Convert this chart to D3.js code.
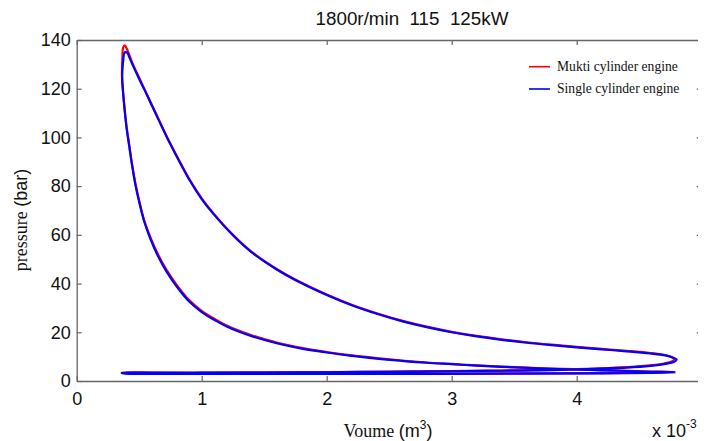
<!DOCTYPE html>
<html><head><meta charset="utf-8">
<script src="https://cdn.jsdelivr.net/npm/d3@7"></script>
<style>
body{margin:0;background:#fff;}
svg{display:block;}
text{white-space:pre;}
</style>
</head><body>
<svg id="chart" width="707" height="441"></svg>
<script>
// ---- data (volume in 1e-3 m^3, pressure in bar) ----
const multiVolume = [4.78,4.60,4.40,4.20,4.00,3.80,3.60,3.40,3.20,3.00,2.80,2.60,2.40,2.20,2.00,1.80,1.60,1.40,1.30,1.20,1.10,1.00,0.90,0.80,0.72,0.65,0.59,0.54,0.50,0.47,0.44,0.42,0.40,0.385,0.37,0.362,
  0.365,0.372,0.385,0.40,0.42,0.45,0.50,0.55,0.60,0.66,0.72,0.80,0.90,1.00,1.10,1.25,1.40,1.60,1.80,2.00,2.20,2.40,2.60,2.80,3.00,3.20,3.40,3.60,3.80,4.00,4.20,4.40,4.59,4.70,4.76,4.78,
  4.76,4.70,4.59,4.40,4.19,4.00,3.80,3.40,3.00,2.50,2.00,1.50,1.00,0.60,0.40,0.36,
  0.40,0.80,1.50,2.50,3.50,4.20,4.60,4.78];
const multiPressure = [3.7,3.9,4.2,4.5,4.8,5.1,5.5,5.9,6.4,7.0,7.6,8.4,9.4,10.5,11.9,13.6,15.8,18.8,20.6,22.8,25.6,28.8,33.2,39.5,45.5,52,59,66,74,81,90,97,104,111,119,126,
  132,137,137.8,136.5,134,130,124.5,119,113.5,107,100.5,92.5,83,75,68.5,60,53,46,40.3,35.5,31.3,27.8,24.8,22.3,20.2,18.5,17.1,15.9,14.9,14.0,13.2,12.4,11.5,10.7,9.8,8.9,
  8.0,7.2,6.4,5.7,5.2,4.9,4.6,4.3,4.1,3.9,3.7,3.6,3.5,3.5,3.5,3.4,
  3.1,3.0,3.0,3.0,3.1,3.2,3.4,3.7];

const singleVolume = [4.79,4.60,4.40,4.20,4.00,3.80,3.60,3.40,3.20,3.00,2.80,2.60,2.40,2.20,2.00,1.80,1.60,1.40,1.30,1.20,1.10,1.00,0.90,0.80,0.72,0.65,0.59,0.54,0.50,0.47,0.44,0.42,0.40,0.385,0.372,0.364,
  0.366,0.372,0.38,0.39,0.405,0.42,0.45,0.50,0.55,0.60,0.66,0.72,0.80,0.90,1.00,1.10,1.25,1.40,1.60,1.80,2.00,2.20,2.40,2.60,2.80,3.00,3.20,3.40,3.60,3.80,4.00,4.20,4.40,4.59,4.71,4.77,4.80,
  4.78,4.71,4.59,4.40,4.19,4.00,3.80,3.40,3.00,2.50,2.00,1.50,1.00,0.60,0.40,0.36,
  0.40,0.80,1.50,2.50,3.50,4.20,4.60,4.79];
const singlePressure = [3.6,3.8,4.1,4.4,4.7,5.0,5.4,5.8,6.3,6.9,7.5,8.3,9.2,10.3,11.7,13.3,15.5,18.4,20.2,22.4,25.1,28.3,32.6,38.8,44.8,51.3,58.3,65.5,73.5,80.5,89.5,96.5,103.5,110.5,118,124,
  128,131.5,134.5,135,134.8,133,129.5,124,118.7,113.2,106.7,100.2,92.2,82.7,74.7,68.2,59.8,52.8,45.8,40.1,35.3,31.1,27.6,24.6,22.1,20.0,18.3,16.9,15.7,14.7,13.8,13.0,12.2,11.3,10.5,9.6,8.8,
  7.9,7.0,6.2,5.5,5.1,4.8,4.5,4.2,4.0,3.8,3.6,3.5,3.4,3.4,3.4,3.3,
  3.0,2.9,2.9,2.9,3.0,3.1,3.3,3.6];

const xTicks = [0,1,2,3,4,5];
const yTicks = [0,20,40,60,80,100,120,140];
const seriesNames = ["Mukti cylinder engine","Single cylinder engine"];
const seriesColors = ["#ff0000","#0000ff"];
const titleText = "1800r/min  115  125kW";

// ---- layout ----
const svg = d3.select("#chart");
const L = 76.7, R = 701.7, T = 40, B = 381;
const x = d3.scaleLinear().domain([0,5]).range([L,R]);
const y = d3.scaleLinear().domain([0,140]).range([B,T]);

svg.append("defs").append("clipPath").attr("id","cut")
  .append("rect").attr("x",0).attr("y",0).attr("width",698).attr("height",441);
const root = svg.append("g").attr("clip-path","url(#cut)");

const axisColor = "#666";
const fontSans = "'Liberation Sans', Arial, sans-serif";
const fontSerif = "'Liberation Serif', 'Times New Roman', serif";

function styleAxis(g, showText){
  g.selectAll(".domain").attr("stroke",axisColor).attr("stroke-width",1.3);
  g.selectAll(".tick line").attr("stroke",axisColor).attr("stroke-width",1.2);
  g.selectAll(".tick text").attr("fill","#111").attr("font-family",fontSans).attr("font-size",18);
  if(!showText) g.selectAll(".tick text").remove();
}

root.append("g").attr("transform",`translate(0,${B})`)
  .call(d3.axisBottom(x).tickValues(xTicks).tickFormat(d3.format("d")).tickSizeInner(-5).tickSizeOuter(0).tickPadding(11))
  .call(g=>styleAxis(g,true));
root.append("g").attr("transform",`translate(0,${T})`)
  .call(d3.axisTop(x).tickValues(xTicks).tickSizeInner(-5).tickSizeOuter(0))
  .call(g=>styleAxis(g,false));
root.append("g").attr("transform",`translate(${L},0)`)
  .call(d3.axisLeft(y).tickValues(yTicks).tickFormat(d3.format("d")).tickSizeInner(-5).tickSizeOuter(0).tickPadding(6))
  .call(g=>styleAxis(g,true));
root.append("g").attr("transform",`translate(${R},0)`)
  .call(d3.axisRight(y).tickValues(yTicks).tickSizeInner(-5).tickSizeOuter(0))
  .call(g=>styleAxis(g,false));

// ---- curves ----
const line = d3.line().x(d=>x(d[0])).y(d=>y(d[1])).curve(d3.curveCatmullRom.alpha(0.5));
const series = [
  d3.zip(multiVolume, multiPressure),
  d3.zip(singleVolume, singlePressure)
];
series.forEach((pts,i)=>{
  root.append("path").datum(pts).attr("d",line)
    .attr("fill","none").attr("stroke",seriesColors[i]).attr("stroke-width",2.2)
    .attr("stroke-linejoin","round");
});

// ---- legend ----
const leg = root.append("g");
seriesNames.forEach((name,i)=>{
  const yy = 66.7 + i*22.3;
  leg.append("line").attr("x1",529).attr("x2",550).attr("y1",yy).attr("y2",yy)
    .attr("stroke",seriesColors[i]).attr("stroke-width",1.6);
  leg.append("text").attr("x",557).attr("y",yy+4).attr("font-family",fontSerif)
    .attr("font-size",13.6).attr("fill","#111").text(name);
});

// ---- title & labels ----
root.append("text").attr("x",412).attr("y",25).attr("text-anchor","middle")
  .attr("font-family",fontSans).attr("font-size",18.8).attr("fill","#111").text(titleText);

const xl = root.append("text").attr("x",388).attr("y",437).attr("text-anchor","middle").attr("fill","#111");
xl.append("tspan").attr("font-family",fontSerif).attr("font-size",18).text("Voume ");
xl.append("tspan").attr("font-family",fontSans).attr("font-size",18).text("(m");
xl.append("tspan").attr("font-family",fontSans).attr("font-size",12).attr("dy",-8).text("3");
xl.append("tspan").attr("font-family",fontSans).attr("font-size",18).attr("dy",8).text(")");

const yl = root.append("text").attr("transform","translate(27,220) rotate(-90)").attr("text-anchor","middle").attr("fill","#111");
yl.append("tspan").attr("font-family",fontSerif).attr("font-size",18).text("pressure ");
yl.append("tspan").attr("font-family",fontSans).attr("font-size",18).text("(bar)");

const mult = root.append("text").attr("x",652).attr("y",437).attr("fill","#111").attr("font-family",fontSans);
mult.append("tspan").attr("font-size",18).text("x 10");
mult.append("tspan").attr("font-size",12).attr("dy",-9).text("-3");
</script>
</body></html>
